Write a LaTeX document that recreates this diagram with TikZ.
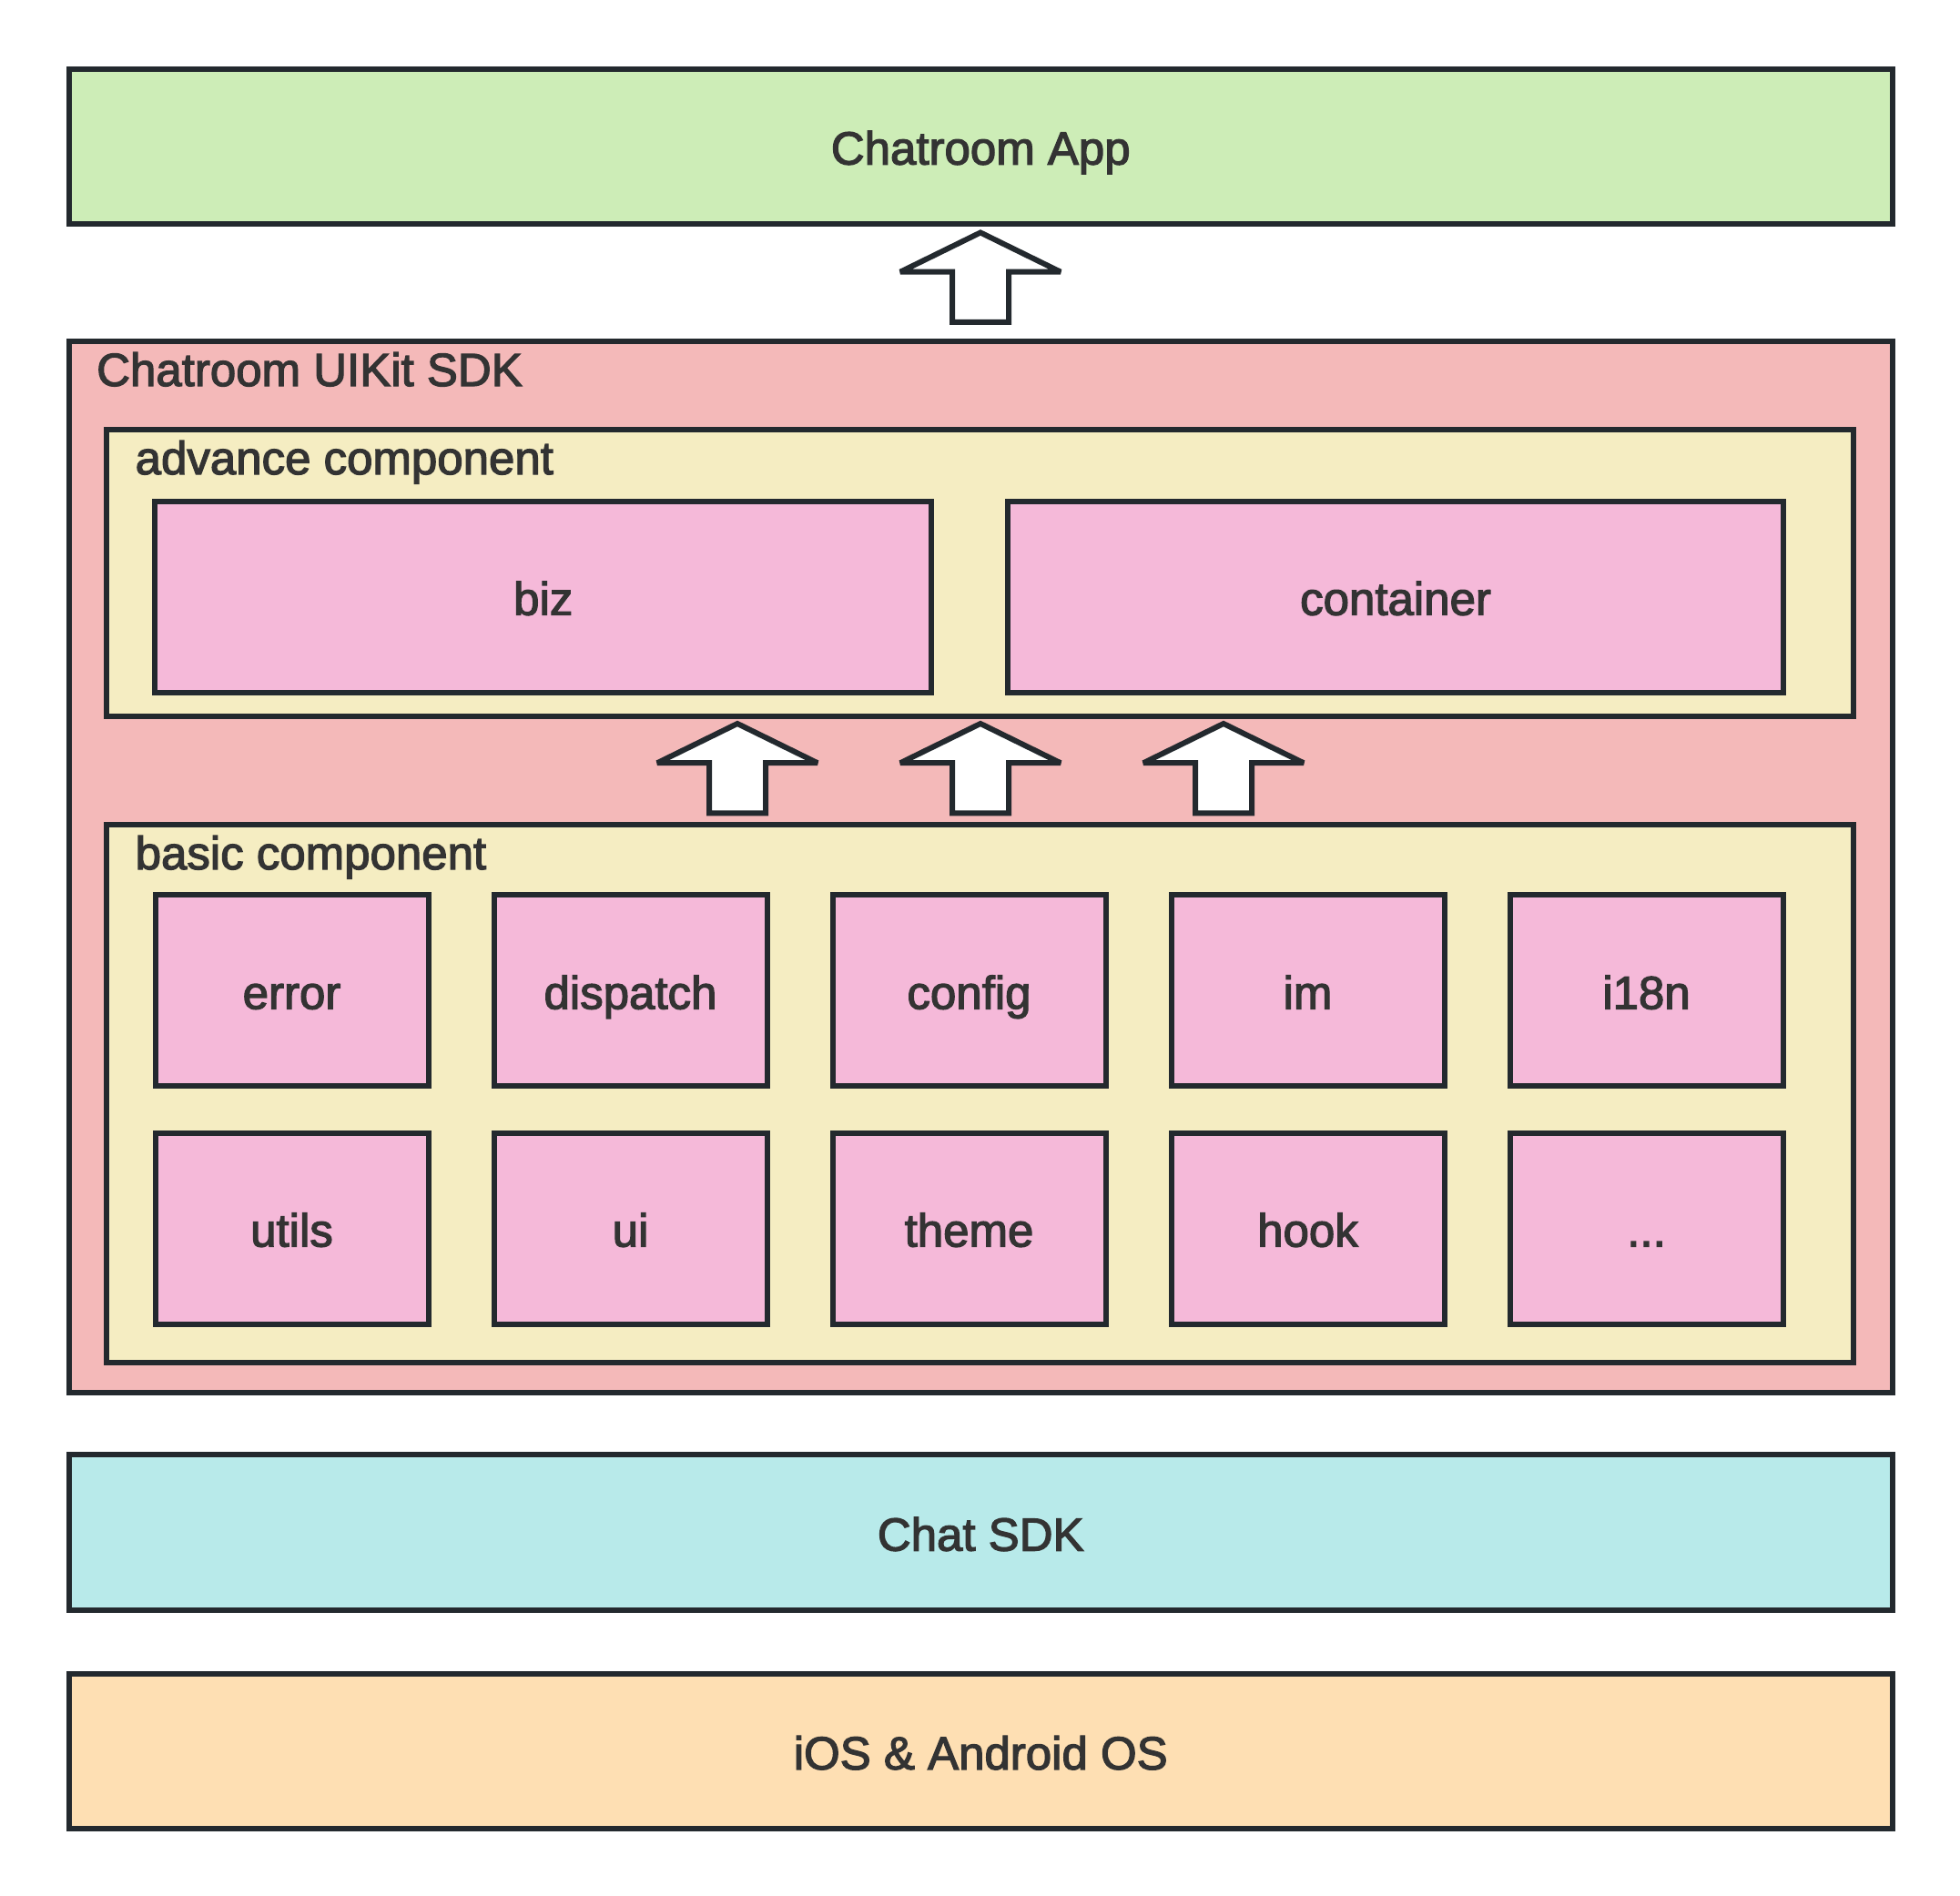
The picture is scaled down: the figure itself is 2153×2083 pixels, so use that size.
\documentclass[tikz,border=0pt]{standalone}
\usepackage{fontspec}
\setmainfont{Liberation Sans}
\newfontfamily\medfont{Liberation Sans}[FakeBold=2.5]
\definecolor{strokec}{HTML}{23292E}
\definecolor{textc}{HTML}{333333}
\definecolor{appc}{HTML}{CDEDB7}
\definecolor{kitc}{HTML}{F4B9B9}
\definecolor{grpc}{HTML}{F5EDC2}
\definecolor{cellc}{HTML}{F5B9D9}
\definecolor{chatc}{HTML}{B8EAEA}
\definecolor{osc}{HTML}{FEDFB3}
\tikzset{
  boxbase/.style={draw=strokec, line width=6pt, inner sep=0pt, text=textc,
    text height=45pt, text depth=5pt,
    font=\medfont\fontsize{51}{60}\selectfont},
  layer/.style={boxbase, minimum width=2003.5pt, minimum height=170.3pt},
  grpbox/.style={boxbase, fill=grpc, minimum width=1919.6pt},
  cellbox/.style={boxbase, fill=cellc, minimum width=300pt, minimum height=210pt},
  wide/.style={boxbase, fill=cellc, minimum width=852.6pt, minimum height=210pt},
  lbl/.style={anchor=base west, inner sep=0pt, text=textc,
    font=\medfont\fontsize{51}{60}\selectfont},
  blockarrow/.style={draw=strokec, fill=white, line width=6pt, line join=miter, miter limit=2}
}
\begin{document}
\begin{tikzpicture}[x=1pt,y=-1pt]
\useasboundingbox (0,0) rectangle (2153,2083);
% layers
\node[layer, fill=appc] (app) at (1077.25,160.65) {Chatroom App};
\node[boxbase, fill=kitc, minimum width=2003.5pt, minimum height=1155pt] (kit) at (1077.25,952) {};
\node[lbl] (kitlbl) at (106,424) {Chatroom UIKit SDK};
\node[grpbox, minimum height=314.7pt] (adv) at (1076.5,629.65) {};
\node[lbl] (advlbl) at (148.5,521) {advance component};
\node[wide] (biz) at (596.75,655.6) {biz};
\node[wide] (cont) at (1533.05,655.6) {container};
\node[grpbox, minimum height=591.3pt] (basic) at (1076.5,1201.65) {};
\node[lbl] (baslbl) at (148.5,955) {basic component};
% cells
\node[cellbox] (c11) at (320.5,1088.4) {error};
\node[cellbox] (c12) at (692.5,1088.4) {dispatch};
\node[cellbox] (c13) at (1064.5,1088.4) {config};
\node[cellbox] (c14) at (1436.5,1088.4) {im};
\node[cellbox] (c15) at (1808.5,1088.4) {i18n};
\node[cellbox] (c21) at (320.5,1349.5) {utils};
\node[cellbox] (c22) at (692.5,1349.5) {ui};
\node[cellbox] (c23) at (1064.5,1349.5) {theme};
\node[cellbox] (c24) at (1436.5,1349.5) {hook};
\node[cellbox] (c25) at (1808.5,1349.5) {...};
\node[layer, fill=chatc] (chat) at (1077.25,1683.6) {Chat SDK};
\node[layer, fill=osc] (os) at (1077.25,1923.85) {iOS \& Android OS};
% block arrows
\coordinate (t0) at (1077,255.5);
\coordinate (t1) at (810,795);
\coordinate (t2) at (1077,795);
\coordinate (t3) at (1344,795);
\foreach \t in {t0,t1,t2,t3}{
  \draw[blockarrow] (\t) -- ++(88,43.2) -- ++(-57,0) -- ++(0,55.1) -- ++(-62,0)
     -- ++(0,-55.1) -- ++(-57,0) -- cycle;
}
\end{tikzpicture}
\end{document}
